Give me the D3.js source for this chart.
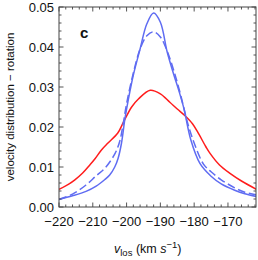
<!DOCTYPE html>
<html lang="en">
<head>
<meta charset="UTF-8">
<title>velocity distribution</title>
<script src="https://d3js.org/d3.v7.min.js"></script>
<style>
  body { margin: 0; background: #fff; }
  text { font-family: "Liberation Sans", Arial, sans-serif; fill: #111; }
</style>
</head>
<body>
<svg width="258" height="260"></svg>
<script>
// data
var xTicks = [-220, -210, -200, -190, -180, -170];
var yTicks = [0.00, 0.01, 0.02, 0.03, 0.04, 0.05];

var vSolid = [-220, -216, -212, -209, -206.4, -205, -203.5, -202.5, -201.5, -200.5, -199.5, -198, -196, -194, -192, -190, -188, -186, -184.5, -183, -181, -178.3, -175, -172, -168, -165, -161.5];
var blueSolid = [0.0019, 0.0028, 0.0039, 0.0052, 0.0069, 0.0080, 0.0100, 0.0122, 0.0160, 0.0220, 0.0268, 0.0330, 0.0395, 0.0458, 0.0485, 0.0462, 0.0388, 0.0330, 0.0290, 0.0245, 0.0168, 0.0109, 0.0077, 0.0058, 0.0042, 0.0033, 0.0026];

var vDash = [-220, -216, -212, -209, -206.4, -203.4, -202, -201, -200, -198, -196, -194, -192, -190, -188, -186, -184, -182, -180, -177.3, -175, -172, -168, -165, -161.5];
var blueDash = [0.0019, 0.0032, 0.0055, 0.0078, 0.0097, 0.0134, 0.0165, 0.0208, 0.0258, 0.0335, 0.0395, 0.0428, 0.0438, 0.0425, 0.0390, 0.0340, 0.0280, 0.0212, 0.0160, 0.0108, 0.0088, 0.0068, 0.0048, 0.0037, 0.0030];

var vRed = [-220, -217, -215.3, -213, -211, -209.4, -207.5, -205.5, -202.6, -201, -198.5, -196.5, -193, -190, -187.2, -185, -182.7, -180.5, -178.6, -176.5, -175.3, -172.5, -169.4, -166, -161.5];
var red = [0.0044, 0.0058, 0.0068, 0.0085, 0.0104, 0.0120, 0.0142, 0.0160, 0.0185, 0.0211, 0.0250, 0.0270, 0.0292, 0.0283, 0.0262, 0.0245, 0.0228, 0.0208, 0.0182, 0.0150, 0.0134, 0.0105, 0.0084, 0.0065, 0.0044];

var svg = d3.select('svg');
var margin = {left: 59, top: 7, right: 2, bottom: 53};
var W = 258 - margin.left - margin.right;
var H = 260 - margin.top - margin.bottom;

var x = d3.scaleLinear().domain([-220, -161.7]).range([0, W]);
var y = d3.scaleLinear().domain([0, 0.05]).range([H, 0]);

var g = svg.append('g').attr('transform', 'translate(' + margin.left + ',' + margin.top + ')');

// clip so curves stay inside the frame
g.append('clipPath').attr('id', 'clip')
  .append('rect').attr('width', W).attr('height', H);

function makeLine(xs) {
  return d3.line()
    .x(function(d, i) { return x(xs[i]); })
    .y(function(d) { return y(d); })
    .curve(d3.curveCatmullRom.alpha(0.5));
}

var curves = g.append('g').attr('clip-path', 'url(#clip)');
curves.append('path').datum(red)
  .attr('d', makeLine(vRed)).attr('fill', 'none')
  .attr('stroke', '#ff1c1c').attr('stroke-width', 1.5);
curves.append('path').datum(blueDash)
  .attr('d', makeLine(vDash)).attr('fill', 'none')
  .attr('stroke', '#5f6cf2').attr('stroke-width', 1.5)
  .attr('stroke-dasharray', '8,3.5');
curves.append('path').datum(blueSolid)
  .attr('d', makeLine(vSolid)).attr('fill', 'none')
  .attr('stroke', '#5f6cf2').attr('stroke-width', 1.5);

// inward ticks on all four sides
var minorX = d3.range(-220, -161, 2);
var minorY = d3.range(0, 0.0501, 0.002);
var tk = g.append('g').attr('stroke', '#555').attr('stroke-width', 1);
minorX.forEach(function(v) {
  var big = Math.abs(v % 10) < 0.01;
  var len = big ? 4.5 : 2.5;
  tk.append('line').attr('x1', x(v)).attr('x2', x(v)).attr('y1', H).attr('y2', H - len);
  tk.append('line').attr('x1', x(v)).attr('x2', x(v)).attr('y1', 0).attr('y2', len);
});
minorY.forEach(function(v, i) {
  var big = i % 5 === 0;
  var len = big ? 4.5 : 2.5;
  tk.append('line').attr('x1', 0).attr('x2', len).attr('y1', y(v)).attr('y2', y(v));
  tk.append('line').attr('x1', W).attr('x2', W - len).attr('y1', y(v)).attr('y2', y(v));
});

g.append('rect').attr('width', W).attr('height', H)
  .attr('fill', 'none').attr('stroke', '#444').attr('stroke-width', 1);

// tick labels
g.selectAll('.xl').data(xTicks).enter().append('text')
  .attr('x', function(d) { return x(d); }).attr('y', H + 19)
  .attr('text-anchor', 'middle').attr('font-size', 13)
  .text(function(d) { return d3.format('d')(d).replace('-', '\u2212'); });

g.selectAll('.yl').data(yTicks).enter().append('text')
  .attr('x', -5).attr('y', function(d) { return y(d); })
  .attr('dy', '0.36em').attr('text-anchor', 'end').attr('font-size', 13)
  .text(function(d) { return d3.format('.2f')(d); });

// panel letter
g.append('text').attr('x', 21).attr('y', 31)
  .attr('font-size', 15).attr('font-weight', 'bold').text('c');

// axis titles
svg.append('text')
  .attr('transform', 'translate(13.5,' + (margin.top + H / 2) + ') rotate(-90)')
  .attr('text-anchor', 'middle').attr('font-size', 11.5)
  .text('velocity distribution \u2212 rotation');

var xt = svg.append('text').attr('x', 114).attr('y', 253).attr('font-size', 12.5);
xt.append('tspan').attr('font-style', 'italic').text('v');
xt.append('tspan').attr('font-size', 9.5).attr('dy', 3).text('los');
xt.append('tspan').attr('dy', -3).text(' (km ');
xt.append('tspan').attr('font-style', 'italic').text('s');
xt.append('tspan').attr('font-size', 9.5).attr('dy', -5).text('\u22121');
xt.append('tspan').attr('dy', 5).text(')');
</script>
</body>
</html>
